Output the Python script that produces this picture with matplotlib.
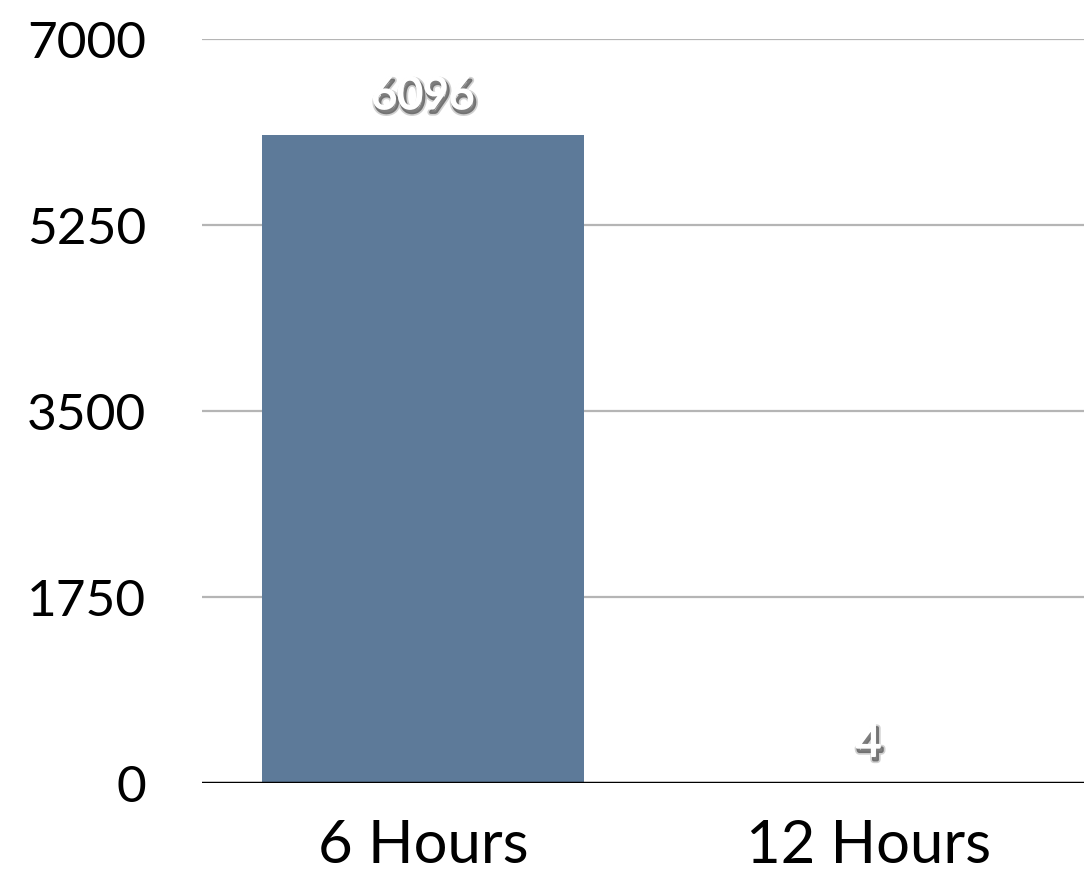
import matplotlib.pyplot as plt
import matplotlib.patheffects as pe

categories = ["6 Hours", "12 Hours"]
values = [6096, 4]
yticks = [0, 1750, 3500, 5250, 7000]

plt.rcParams['font.family'] = ['Lato', 'DejaVu Sans']

fig = plt.figure(figsize=(10.84, 8.81), dpi=100)
ax = fig.add_axes([0.1863, 0.1112, 0.8137, 0.8445])

x = range(len(categories))
ax.bar(x, values, width=0.723, color='#5d7a99', zorder=2)

ax.set_ylim(0, 7000)
ax.set_xlim(-0.496, 1.484)
ax.set_yticks(yticks)
ax.set_yticklabels([str(t) for t in yticks])
ax.set_xticks(list(x))
ax.set_xticklabels(categories)
ax.tick_params(axis='y', length=0, pad=40, labelsize=37)
ax.tick_params(axis='x', length=0, pad=26, labelsize=43)

for t in yticks[1:]:
    ax.axhline(t, color='#b5b5b5', lw=1.6, zorder=1)
ax.axhline(0, color='black', lw=2.5, zorder=3)

for s in ax.spines.values():
    s.set_visible(False)

# white value labels with a soft dark drop shadow
shadow = [pe.Stroke(offset=(1.5, -2.5), linewidth=5, foreground='black', alpha=0.18),
          pe.Stroke(offset=(1.5, -2.5), linewidth=2.5, foreground='black', alpha=0.45),
          pe.Stroke(linewidth=1.2, foreground='white'),
          pe.Normal()]
for i, v in enumerate(values):
    ax.annotate(str(v), (i, v), xytext=(0, 28), textcoords='offset points',
                ha='center', va='center', fontsize=32, color='white',
                path_effects=shadow)

fig.savefig('out.png', dpi=100)
